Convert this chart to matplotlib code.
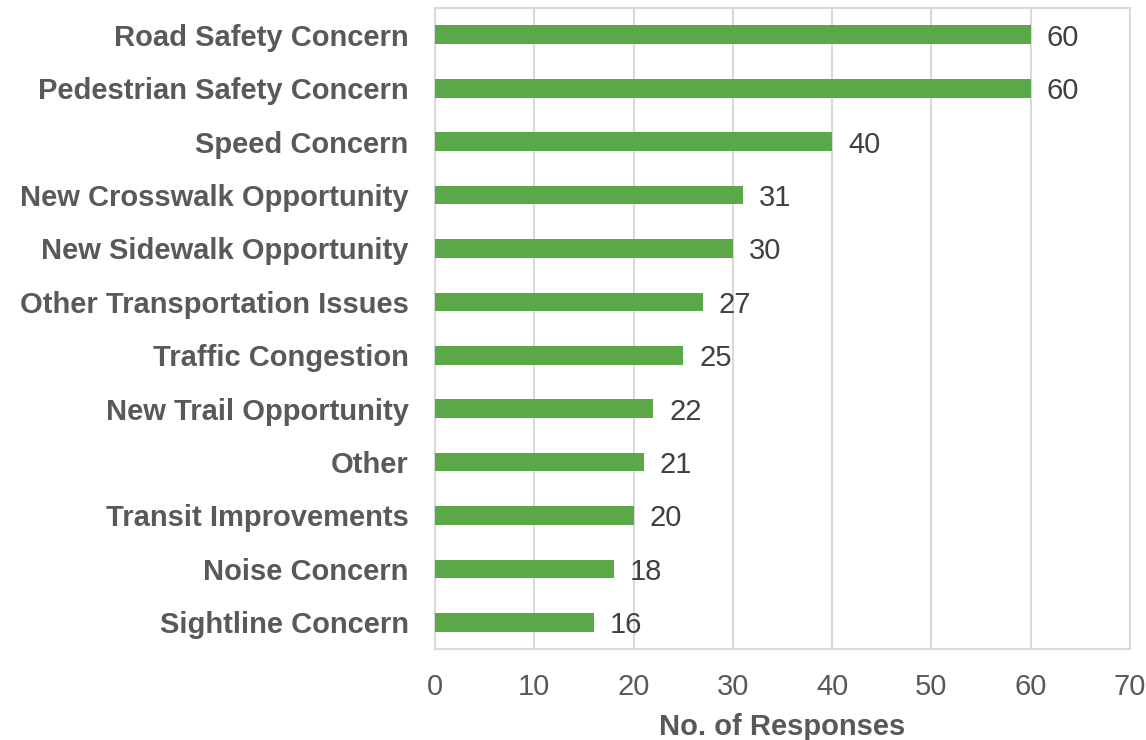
import matplotlib
matplotlib.use('Agg')
import matplotlib.pyplot as plt
import numpy as np

plt.rcParams['font.family'] = ['Liberation Sans', 'DejaVu Sans']

categories = ['Road Safety Concern', 'Pedestrian Safety Concern', 'Speed Concern',
              'New Crosswalk Opportunity', 'New Sidewalk Opportunity',
              'Other Transportation Issues', 'Traffic Congestion', 'New Trail Opportunity',
              'Other', 'Transit Improvements', 'Noise Concern', 'Sightline Concern']
responses = [60, 60, 40, 31, 30, 27, 25, 22, 21, 20, 18, 16]
xticks = [0, 10, 20, 30, 40, 50, 60, 70]

bar_color = '#5BA848'
grid_color = '#D9D9D9'

fig = plt.figure(figsize=(11.46, 7.4), dpi=100)
ax = fig.add_axes([0.3796, 0.123, 0.6064, 0.866])

y = np.arange(len(categories))
ax.barh(y, responses, height=0.35, color=bar_color, zorder=3)

# value labels
for yi, v in zip(y, responses):
    ax.text(v + 1.6, yi, str(v), va='center_baseline', ha='left', fontsize=21, color='#404040')

ax.set_ylim(len(categories) - 0.5, -0.5)
ax.set_xlim(0, 70)
ax.set_xticks(xticks)
ax.set_yticks(y)
ax.set_yticklabels(categories, fontsize=21, fontweight='bold', color='#595959')
ax.tick_params(axis='x', labelsize=21, labelcolor='#595959', length=0, pad=17)
ax.tick_params(axis='y', length=0, pad=19)

ax.grid(axis='x', color=grid_color, linewidth=1.5, zorder=0)
for s in ax.spines.values():
    s.set_color(grid_color)
    s.set_linewidth(1.5)

ax.set_xlabel('No. of Responses', fontsize=21, fontweight='bold', color='#595959', labelpad=9)

fig.savefig('out.png', dpi=100)
